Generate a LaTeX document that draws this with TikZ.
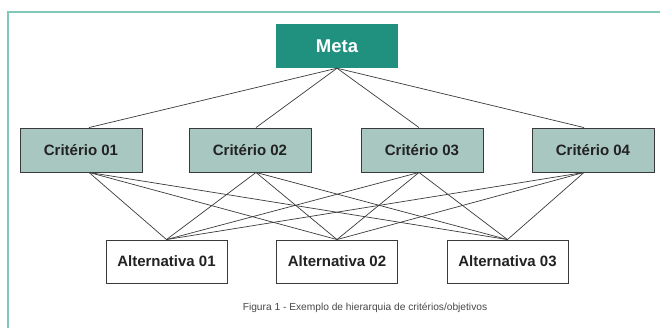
\documentclass[tikz,border=0pt]{standalone}
\usepackage{fontspec}
\setmainfont{Liberation Sans}
\usetikzlibrary{shadows}
\definecolor{frameC}{HTML}{80C8B8}
\definecolor{metaC}{HTML}{21917F}
\definecolor{critC}{HTML}{A8C7C0}
\definecolor{edgeC}{HTML}{3A3A3A}
\definecolor{textC}{HTML}{222222}
\begin{document}
\begin{tikzpicture}[x=1pt,y=-1pt,
  metabox/.style={fill=metaC, minimum width=122pt, minimum height=44pt, inner sep=0pt,
    text=white, font=\fontsize{18.5}{20}\selectfont\bfseries},
  critbox/.style={fill=critC, draw=edgeC, line width=0.9pt, minimum width=122pt, minimum height=44pt,
    inner sep=0pt, text=textC, font=\fontsize{15}{17}\selectfont\bfseries,
    drop shadow={shadow xshift=1.2pt, shadow yshift=-1.2pt, fill=edgeC, opacity=0.8}},
  altbox/.style={fill=white, draw=edgeC, line width=0.9pt, minimum width=121pt, minimum height=43pt,
    inner sep=0pt, text=textC, font=\fontsize{15}{17}\selectfont\bfseries},
  link/.style={draw=edgeC, line width=0.7pt},
  caption/.style={text=black!72, font=\fontsize{10.2}{12}\selectfont}]
\useasboundingbox (0,0) rectangle (660,327);
% frame
\draw[frameC, line width=1.6pt] (8,340) -- (8,12) -- (670,12);
% nodes
\node[metabox] (meta) at (337,46) {Meta};
\node[critbox] (c1) at (81,150) {Critério 01};
\node[critbox] (c2) at (250,150) {Critério 02};
\node[critbox] (c3) at (422,150) {Critério 03};
\node[critbox] (c4) at (593,150) {Critério 04};
\node[altbox] (a1) at (166.5,261.5) {Alternativa 01};
\node[altbox] (a2) at (337,261.5) {Alternativa 02};
\node[altbox] (a3) at (507.5,261.5) {Alternativa 03};
\node[caption] (cap) at (365,308) {Figura 1 - Exemplo de hierarquia de critérios/objetivos};
% connectors meta -> criteria
\draw[link] (meta.south) -- ([xshift=8pt]c1.north);
\draw[link] (meta.south) -- ([xshift=6pt]c2.north);
\draw[link] (meta.south) -- ([xshift=-3pt]c3.north);
\draw[link] (meta.south) -- ([xshift=-9pt]c4.north);
% connectors criteria -> alternatives
\foreach \c/\s in {c1/8, c2/6, c3/-3, c4/-9}{
  \foreach \a in {a1,a2,a3}{
    \draw[link] ([xshift=\s pt]\c.south) -- (\a.north);
  }
}
\end{tikzpicture}
\end{document}
